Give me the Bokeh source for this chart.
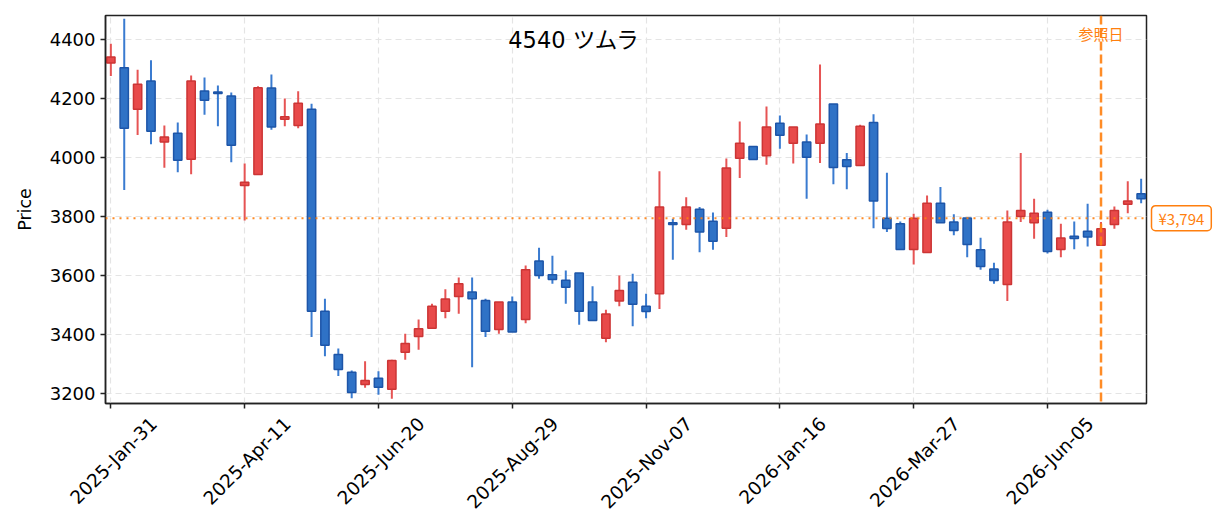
import math
import pandas as pd
from bokeh.plotting import figure
from bokeh.layouts import row
from bokeh.models import ColumnDataSource, Span, Label, Range1d, FixedTicker, LinearAxis
from bokeh.embed import file_html
from bokeh.resources import INLINE

# ---------------- data ----------------
start_date = "2025-01-31"
opens = [4320, 4304, 4163, 4259, 4052, 4082, 3994, 4225, 4222, 4208,
         3905, 3942, 4235, 4129, 4108, 4163, 3479, 3332, 3272, 3230,
         3252, 3214, 3340, 3393, 3421, 3479, 3529, 3544, 3515, 3417,
         3510, 3451, 3649, 3602, 3584, 3608, 3510, 3387, 3513, 3577,
         3496, 3538, 3779, 3773, 3824, 3784, 3760, 3997, 4037, 4006,
         4116, 4048, 4052, 4048, 4181, 3992, 3973, 4118, 3794, 3775,
         3688, 3678, 3845, 3781, 3795, 3687, 3622, 3569, 3800, 3779,
         3814, 3688, 3733, 3750, 3702, 3773, 3841, 3877]
highs = [4385, 4470, 4297, 4329, 4108, 4118, 4278, 4271, 4244, 4220,
         3979, 4241, 4281, 4200, 4224, 4182, 3521, 3352, 3278, 3309,
         3275, 3314, 3402, 3451, 3504, 3553, 3593, 3593, 3521, 3510,
         3529, 3634, 3694, 3667, 3617, 3608, 3563, 3484, 3600, 3606,
         3538, 3953, 3792, 3865, 3832, 3813, 3996, 4122, 4037, 4173,
         4142, 4103, 4078, 4315, 4181, 4015, 4111, 4146, 3948, 3783,
         3809, 3871, 3900, 3807, 3795, 3728, 3643, 3820, 4015, 3860,
         3823, 3775, 3783, 3843, 3781, 3834, 3919, 3928]
lows = [4276, 3890, 4076, 4045, 3965, 3950, 3943, 4145, 4106, 3984,
        3786, 3942, 4094, 4106, 4099, 3391, 3326, 3259, 3184, 3219,
        3196, 3182, 3314, 3348, 3421, 3455, 3470, 3289, 3391, 3402,
        3408, 3438, 3589, 3572, 3504, 3433, 3447, 3374, 3496, 3428,
        3455, 3486, 3653, 3755, 3679, 3687, 3730, 3930, 3993, 3975,
        4029, 3979, 3860, 3981, 3909, 3892, 3973, 3760, 3747, 3688,
        3637, 3678, 3779, 3736, 3662, 3619, 3572, 3513, 3781, 3724,
        3674, 3662, 3689, 3698, 3700, 3758, 3811, 3845]
closes = [4340, 4099, 4248, 4089, 4069, 3990, 4259, 4194, 4217, 4041,
          3916, 4236, 4103, 4138, 4184, 3479, 3363, 3281, 3203, 3244,
          3221, 3312, 3369, 3419, 3496, 3520, 3572, 3521, 3411, 3510,
          3408, 3619, 3600, 3586, 3560, 3479, 3447, 3469, 3549, 3502,
          3478, 3832, 3773, 3832, 3747, 3716, 3964, 4048, 3993, 4103,
          4075, 4103, 4001, 4113, 3966, 3969, 4106, 3852, 3759, 3688,
          3794, 3845, 3779, 3752, 3705, 3630, 3583, 3781, 3820, 3811,
          3681, 3727, 3725, 3730, 3758, 3820, 3852, 3860]
ref_price = 3794
ref_date = "2026-07-03"
ticker_title = "4540  ツムラ"
ref_label = "参照日"
y_ticks = [3200, 3400, 3600, 3800, 4000, 4200, 4400]
x_tick_every = 10

# ---------------- build ----------------
dates = pd.date_range(start_date, periods=len(opens), freq="7D")
xs = list(range(len(opens)))
ref_idx = int(list(dates).index(pd.Timestamp(ref_date)))

UP_FILL, UP_EDGE, UP_WICK = "#e84a4a", "#cc3535", "#e65454"
DN_FILL, DN_EDGE, DN_WICK = "#2f72c6", "#1d55a8", "#3a7bd0"
ORANGE = "#ff7f0e"
JP = "Noto Sans CJK JP"
LAT = "DejaVu Sans"
MIX = "DejaVu Sans, Noto Sans CJK JP"
LABEL_SHIFT = 3.2   # rotated tick labels centred on their tick (in week units)

up = [c >= o for o, c in zip(opens, closes)]
src = ColumnDataSource(dict(
    x=xs, open=opens, high=highs, low=lows, close=closes,
    top=[max(o, c) for o, c in zip(opens, closes)],
    bottom=[min(o, c) for o, c in zip(opens, closes)],
    fill=[UP_FILL if u else DN_FILL for u in up],
    edge=[UP_EDGE if u else DN_EDGE for u in up],
    wick=[UP_WICK if u else DN_WICK for u in up],
))

y_range = Range1d(3166, 4481)
p = figure(width=1148, height=524, output_backend="svg", toolbar_location=None,
           x_range=Range1d(-0.4, len(opens) - 0.6), y_range=y_range,
           min_border_left=105, min_border_right=2,
           min_border_top=15, min_border_bottom=121)
p.background_fill_color = "white"
p.border_fill_color = "white"
p.outline_line_color = "#222222"
p.outline_line_width = 1.5

p.segment(x0="x", y0="low", x1="x", y1="high", line_color="wick",
          line_width=2, source=src)
p.vbar(x="x", width=0.62, top="top", bottom="bottom", fill_color="fill",
       line_color="edge", line_width=1.5, source=src)

p.add_layout(Span(location=ref_price, dimension="width", line_color=ORANGE,
                  line_width=2, line_dash="2 5", line_alpha=0.9))
p.add_layout(Span(location=ref_idx, dimension="height", line_color=ORANGE,
                  line_width=2.5, line_dash="9 4", line_alpha=0.9))

p.add_layout(Label(x=ref_idx, y=4420, text=ref_label, text_color=ORANGE,
                   text_font=JP, text_font_size="15px",
                   text_baseline="middle", text_align="center"))
p.add_layout(Label(x=34.9, y=4398, text=ticker_title, text_color="black",
                   text_font=MIX, text_font_size="22.5px",
                   text_baseline="middle", text_align="center"))

# x axis: ticks on the main axis, rotated labels on a second axis
tick_idx = xs[::x_tick_every]
xa = p.xaxis[0]
xa.ticker = FixedTicker(ticks=tick_idx)
xa.major_label_overrides = {i: "" for i in tick_idx}
xa.major_label_text_font_size = "0px"
xa.major_label_standoff = 0
p.xgrid.ticker = FixedTicker(ticks=tick_idx)

lab_pos = [i + LABEL_SHIFT for i in tick_idx]
xlab = LinearAxis(ticker=FixedTicker(ticks=lab_pos),
                  major_label_overrides={i + LABEL_SHIFT: dates[i].strftime("%Y-%b-%d")
                                         for i in tick_idx})
xlab.axis_line_color = None
xlab.major_tick_line_color = None
xlab.minor_tick_line_color = None
xlab.major_label_orientation = math.pi / 4
xlab.major_label_standoff = 6
xlab.major_label_text_font = LAT
xlab.major_label_text_font_size = "18.5px"
xlab.major_label_text_color = "black"
p.add_layout(xlab, "below")

ya = p.yaxis[0]
ya.ticker = FixedTicker(ticks=y_ticks)
ya.axis_label = "Price"
ya.axis_label_standoff = 12

for ax in (xa, ya):
    ax.axis_line_color = "#222222"
    ax.axis_line_width = 1.5
    ax.major_tick_line_color = "#222222"
    ax.major_tick_line_width = 1.5
    ax.major_tick_out = 5
    ax.major_tick_in = 0
    ax.minor_tick_line_color = None
ya.major_label_text_font = LAT
ya.major_label_text_color = "black"
ya.major_label_text_font_size = "18px"
ya.axis_label_text_font = LAT
ya.axis_label_text_font_style = "normal"
ya.axis_label_text_font_size = "17.5px"
ya.axis_label_text_color = "black"

for g in (p.xgrid, p.ygrid):
    g.grid_line_color = "#e4e4e4"
    g.grid_line_dash = "6 4"
    g.grid_line_width = 1.2

# price tag panel to the right of the frame
tag = figure(width=69, height=524, output_backend="svg", toolbar_location=None,
             x_range=Range1d(0, 1), y_range=y_range,
             x_axis_location=None, y_axis_location=None,
             min_border_left=0, min_border_right=0,
             min_border_top=15, min_border_bottom=121)
tag.outline_line_color = None
tag.xgrid.visible = False
tag.ygrid.visible = False
tag.background_fill_color = "white"
tag.border_fill_color = "white"
price_tag = Label(x=0, y=ref_price, x_offset=3, text=f"¥{ref_price:,}",
                  text_color=ORANGE, text_font=JP, text_font_size="15px",
                  text_baseline="middle", text_align="left",
                  border_line_color=ORANGE, border_line_width=1.5,
                  background_fill_color="white", border_radius=4)
try:
    price_tag.padding = dict(left=7, right=7, top=2, bottom=2)
except Exception:
    price_tag.padding = 4
tag.add_layout(price_tag)

layout = row(p, tag)
open("out.html", "w").write(file_html(layout, INLINE))
